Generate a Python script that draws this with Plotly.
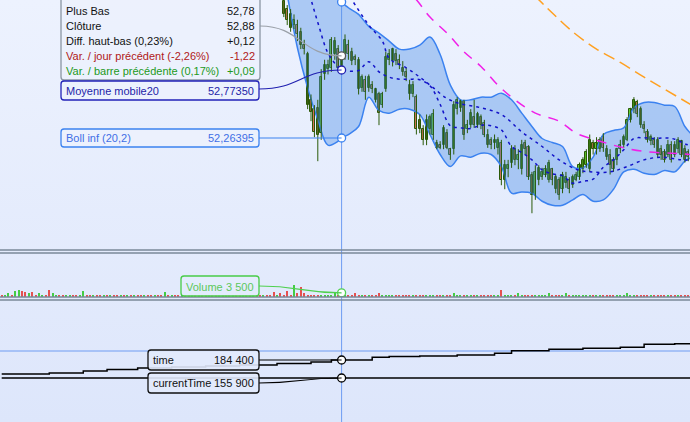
import base64
import plotly.graph_objects as go

# ---------------- DATA ----------------
first_idx = 83
opn = [53.29, 53.23, 53.19, 53.11, 53.11, 53.06, 52.96, 52.89, 52.55, 52.48,
       52.49, 52.30, 52.74, 52.78, 52.79, 52.89, 52.93, 52.80, 52.89, 52.96,
       52.91, 52.87, 52.85, 52.64, 52.70, 52.64, 52.66, 52.63, 52.59, 52.51,
       52.63, 52.85, 52.84, 52.89, 52.85, 52.79, 52.76, 52.66, 52.59, 52.57,
       52.40, 52.33, 52.25, 52.33, 52.29, 52.23, 52.21, 52.21, 52.30, 52.18,
       52.18, 52.48, 52.49, 52.54, 52.33, 52.36, 52.42, 52.36, 52.42, 52.38,
       52.29, 52.25, 52.23, 52.19, 52.23, 51.95, 52.03, 52.08, 52.18, 52.10,
       52.03, 52.23, 52.20, 51.99, 51.84, 51.95, 51.97, 51.99, 51.95, 52.03,
       51.97, 51.95, 51.88, 51.93, 51.95, 51.91, 51.95, 51.97, 52.03, 52.06,
       52.03, 52.23, 52.18, 52.18, 52.27, 52.18, 52.14, 52.10, 52.10, 52.18,
       52.21, 52.25, 52.40, 52.48, 52.53, 52.48, 52.36, 52.31, 52.24, 52.25,
       52.25, 52.18, 52.16, 52.14, 52.21, 52.21, 52.18, 52.24, 52.18, 52.16]
close = [53.19, 53.15, 53.09, 53.15, 53.04, 52.96, 52.93, 52.51, 52.46, 52.31,
         52.29, 52.72, 52.81, 52.81, 53.00, 52.99, 52.79, 52.88, 53.00, 52.89,
         52.84, 52.85, 52.63, 52.72, 52.61, 52.72, 52.63, 52.55, 52.45, 52.59,
         52.87, 52.89, 52.93, 52.84, 52.81, 52.76, 52.72, 52.59, 52.66, 52.33,
         52.33, 52.25, 52.40, 52.42, 52.44, 52.19, 52.19, 52.34, 52.19, 52.14,
         52.51, 52.55, 52.54, 52.29, 52.36, 52.45, 52.36, 52.44, 52.36, 52.29,
         52.21, 52.21, 52.25, 52.25, 51.95, 52.06, 52.06, 52.18, 52.10, 52.14,
         52.21, 52.18, 51.97, 51.84, 52.01, 52.04, 52.01, 52.03, 52.08, 51.95,
         51.88, 51.84, 51.99, 51.97, 51.88, 51.97, 51.99, 52.06, 52.10, 52.16,
         52.25, 52.18, 52.23, 52.25, 52.19, 52.12, 52.06, 52.03, 52.18, 52.21,
         52.27, 52.40, 52.48, 52.55, 52.44, 52.36, 52.33, 52.25, 52.27, 52.21,
         52.14, 52.14, 52.10, 52.21, 52.10, 52.14, 52.25, 52.14, 52.10, 52.12]
high = [53.32, 53.26, 53.23, 53.19, 53.15, 53.09, 53.00, 52.91, 52.59, 52.51,
        52.55, 52.78, 52.85, 52.85, 53.02, 53.02, 52.96, 52.90, 53.04, 53.00,
        52.94, 52.89, 52.87, 52.74, 52.73, 52.74, 52.69, 52.64, 52.61, 52.61,
        52.91, 52.93, 52.94, 52.93, 52.89, 52.84, 52.79, 52.70, 52.69, 52.59,
        52.44, 52.36, 52.44, 52.44, 52.48, 52.25, 52.24, 52.36, 52.33, 52.19,
        52.54, 52.57, 52.55, 52.55, 52.40, 52.48, 52.55, 52.46, 52.44, 52.40,
        52.33, 52.27, 52.29, 52.27, 52.25, 52.10, 52.10, 52.21, 52.21, 52.18,
        52.25, 52.25, 52.21, 52.01, 52.06, 52.06, 52.04, 52.06, 52.10, 52.04,
        51.99, 51.97, 52.01, 52.01, 51.97, 51.99, 52.01, 52.08, 52.12, 52.18,
        52.29, 52.25, 52.27, 52.27, 52.30, 52.21, 52.18, 52.12, 52.19, 52.25,
        52.29, 52.42, 52.49, 52.57, 52.55, 52.50, 52.39, 52.33, 52.29, 52.27,
        52.27, 52.21, 52.18, 52.25, 52.24, 52.24, 52.27, 52.25, 52.21, 52.18]
low = [53.17, 53.11, 53.06, 53.08, 52.99, 52.93, 52.89, 52.48, 52.39, 52.27,
       52.09, 52.25, 52.70, 52.74, 52.76, 52.85, 52.77, 52.78, 52.85, 52.85,
       52.81, 52.81, 52.59, 52.61, 52.55, 52.61, 52.60, 52.53, 52.36, 52.49,
       52.61, 52.81, 52.80, 52.81, 52.78, 52.73, 52.69, 52.55, 52.57, 52.29,
       52.30, 52.21, 52.21, 52.29, 52.25, 52.18, 52.18, 52.18, 52.18, 52.10,
       52.14, 52.44, 52.46, 52.25, 52.30, 52.34, 52.34, 52.34, 52.33, 52.27,
       52.19, 52.18, 52.18, 52.14, 51.91, 51.88, 51.97, 52.04, 52.06, 52.03,
       51.99, 52.14, 51.95, 51.70, 51.80, 51.91, 51.95, 51.97, 51.93, 51.91,
       51.85, 51.80, 51.85, 51.89, 51.85, 51.89, 51.94, 51.95, 52.00, 52.04,
       52.01, 52.14, 52.14, 52.16, 52.16, 52.10, 51.99, 52.01, 52.06, 52.15,
       52.19, 52.24, 52.38, 52.45, 52.42, 52.34, 52.30, 52.23, 52.21, 52.19,
       52.12, 52.10, 52.08, 52.12, 52.08, 52.12, 52.15, 52.12, 52.08, 52.09]

band_idx = [84, 87, 90, 93, 96, 99, 100, 102, 105, 108, 111, 114, 117, 120, 123, 126,
            129, 132, 135, 138, 141, 144, 147, 150, 153, 156, 159, 162, 165, 168, 171,
            174, 177, 180, 183, 186, 189, 192, 195, 198, 201, 203]
boll_sup = [54.43, 54.28, 54.13, 53.86, 53.59, 53.35, 53.283, 53.24, 53.19, 53.10, 53.05,
            52.99, 52.93, 52.93, 52.96, 53.02, 52.89, 52.66, 52.55, 52.55, 52.57, 52.57,
            52.60, 52.55, 52.45, 52.35, 52.26, 52.23, 52.20, 52.05, 52.04, 52.12, 52.29,
            52.32, 52.34, 52.49, 52.53, 52.53, 52.51, 52.50, 52.35, 52.29]
boll_inf = [53.34, 52.94, 52.64, 52.40, 52.21, 52.24, 52.26395, 52.29, 52.35, 52.57, 52.47,
            52.45, 52.48, 52.48, 52.44, 52.29, 52.14, 52.05, 52.13, 52.12, 52.15, 52.14,
            52.05, 51.85, 51.86, 51.85, 51.79, 51.76, 51.76, 51.80, 51.84, 51.79, 51.80,
            51.88, 52.01, 52.03, 52.00, 51.99, 52.02, 52.01, 52.09, 52.12]
mm20 = [53.885, 53.61, 53.385, 53.13, 52.90, 52.795, 52.7735, 52.765, 52.77, 52.835, 52.76,
        52.72, 52.705, 52.705, 52.70, 52.655, 52.515, 52.355, 52.34, 52.335, 52.36, 52.355,
        52.325, 52.20, 52.155, 52.10, 52.025, 51.995, 51.98, 51.925, 51.94, 51.955, 52.045,
        52.10, 52.175, 52.26, 52.265, 52.26, 52.265, 52.255, 52.22, 52.205]

mm50_idx = [98, 103, 108, 112, 114, 119, 123, 127, 131, 135, 141, 147, 153, 159, 164,
            169, 173, 179, 184, 189, 194, 200, 203]
mm50 = [53.50, 53.30, 53.11, 52.99, 52.86, 52.79, 52.72, 52.64, 52.56, 52.52, 52.49, 52.44,
        52.31, 52.20, 52.10, 52.03, 52.01, 52.01, 52.05, 52.10, 52.12, 52.10, 52.10]

mm100_idx = [118, 122, 126, 131, 136, 141, 146, 151, 157, 164, 169, 176, 183, 190, 197, 203]
mm100 = [53.40, 53.30, 53.17, 53.05, 52.91, 52.80, 52.66, 52.55, 52.45, 52.39, 52.30, 52.24,
         52.19, 52.16, 52.15, 52.14]

mm200_idx = [153, 158, 162, 168, 175, 182, 189, 195, 203]
mm200 = [53.42, 53.30, 53.20, 53.06, 52.93, 52.83, 52.72, 52.63, 52.51]

volume = [2000, 2000, 3000, 2000, 5000, 6000, 5000, 4000, 3000, 4000,
          2000, 3000, 2000, 2000, 6000, 3000, 2000, 1000, 2000, 1000,
          1000, 2000, 1000, 1000, 5000, 1000, 2000, 1000, 1000, 2000,
          1000, 2000, 1000, 1000, 2000, 1000, 1000, 1000, 2000, 1000,
          1000, 1000, 2000, 1000, 1000, 1000, 1000, 2000, 4000, 1000,
          1000, 2000, 1000, 1000, 1000, 1000, 1000, 2000, 1000, 1000,
          1000, 1000, 1000, 2000, 1000, 1000, 1000, 1000, 1000, 2000,
          1000, 1000, 2000, 1000, 1000, 1000, 1000, 1000, 2000, 1000,
          4000, 1000, 3000, 1000, 5000, 1000, 10000, 3000, 8000, 3000,
          1000, 2000, 1000, 1000, 2000, 1000, 1000, 1000, 3000, 1000,
          3500, 1000, 1000, 1000, 3000, 2000, 1000, 1000, 1000, 2000,
          1000, 3000, 1000, 1000, 1000, 1000, 1000, 1000, 1000, 1000,
          1000, 1000, 1000, 2000, 1000, 1000, 2000, 1000, 1000, 1000,
          2000, 1000, 1000, 3000, 2000, 2000, 1000, 1000, 1000, 1000,
          1000, 1000, 1000, 1000, 1000, 1000, 1000, 6000, 1000, 1000,
          1000, 2000, 3000, 2000, 1000, 1000, 1000, 1000, 1000, 1000,
          1000, 3000, 1000, 1000, 1000, 1000, 3000, 1000, 2000, 1000,
          1000, 1000, 1000, 2000, 1000, 1000, 1000, 1000, 1000, 1000,
          1000, 1000, 1000, 1000, 3000, 1000, 1000, 1000, 1000, 1000,
          1000, 1000, 1000, 1000, 1000, 1000, 1000, 1000, 1000, 1000,
          1000, 1000, 1000]
vol_dir_early = ("rggrggrrgr" "rggrrggrrg" "grrggrrgrr" "grgrrgrgrg" "rrgrrgrrgr"
                 "grrgrrgrgr" "rgrrgrrrgr" "rgrrgrrgrr" "rgr")

time_idx = [0, 14, 24, 31, 40, 50, 60, 70, 81, 91, 97, 109, 114, 123, 134, 145, 150,
            161, 171, 182, 189, 198, 203]
time_val = [162200, 163800, 167000, 169400, 171700, 173300, 174900, 176500, 178900,
            181200, 184400, 188700, 189800, 190700, 192300, 195000, 199100, 201300,
            202900, 204500, 209300, 210000, 210800]
current_idx = [0, 203]
current_val = [155900, 155900]

cursor_idx = 100
cur_close = 52.88
cur_mm20 = 52.77350
cur_boll_inf = 52.26395
cur_boll_sup = 53.283
cur_volume = 3500
cur_time = 184400
cur_current = 155900

# ---------------- LAYOUT HELPERS ----------------
W, H = 690, 422
X0, X1 = -0.5, 202.5
P_TOP, P_BOT, P_PX = 53.298, 51.432, 249
V_TOP_PX, V_BOT_PX, V_MAX = 254, 297, 36000
T_TOP_PX, T_TOP, T_BOT = 301, 277797, 86254

def xi(px):
    return X0 + px / W * (X1 - X0)

def yprice(py):
    return P_TOP - py / P_PX * (P_TOP - P_BOT)

def yvol(py):
    return (V_BOT_PX - py) / (V_BOT_PX - V_TOP_PX) * V_MAX

def ytime(py):
    return T_TOP - (py - T_TOP_PX) / (H - T_TOP_PX) * (T_TOP - T_BOT)

def fx(px):
    return px / W

def fy(py):
    return 1 - py / H

def rrect(x0, y0, x1, y1, r=3):
    X = lambda v: f"{fx(v):.5f}"
    Y = lambda v: f"{fy(v):.5f}"
    return (f"M {X(x0+r)},{Y(y0)} L {X(x1-r)},{Y(y0)} Q {X(x1)},{Y(y0)} {X(x1)},{Y(y0+r)} "
            f"L {X(x1)},{Y(y1-r)} Q {X(x1)},{Y(y1)} {X(x1-r)},{Y(y1)} "
            f"L {X(x0+r)},{Y(y1)} Q {X(x0)},{Y(y1)} {X(x0)},{Y(y1-r)} "
            f"L {X(x0)},{Y(y0+r)} Q {X(x0)},{Y(y0)} {X(x0+r)},{Y(y0)} Z")

FONT = "Liberation Sans"
BG = "#E6EDFC"
UP, DOWN, EDGE = "#62D030", "#E6735E", "#2A5A08"

# background gradient (light at top, slightly deeper blue at bottom)
svg = ("<svg xmlns='http://www.w3.org/2000/svg' width='690' height='422' preserveAspectRatio='none'>"
       "<defs><linearGradient id='g' x1='0' y1='0' x2='0' y2='1'>"
       "<stop offset='0' stop-color='#EDF2FE'/><stop offset='1' stop-color='#DDE6FB'/>"
       "</linearGradient></defs><rect width='690' height='422' fill='url(#g)'/></svg>")
bg_src = "data:image/svg+xml;base64," + base64.b64encode(svg.encode()).decode()

fig = go.Figure()

# Bollinger band
fig.add_trace(go.Scatter(x=band_idx, y=boll_inf, mode="lines", line=dict(color="#3B82F0", width=1.5, shape="spline"),
                         xaxis="x", yaxis="y", hoverinfo="skip"))
fig.add_trace(go.Scatter(x=band_idx, y=boll_sup, mode="lines", fill="tonexty", fillcolor="rgba(80,145,230,0.42)",
                         line=dict(color="#3B82F0", width=1.5, shape="spline"), xaxis="x", yaxis="y", hoverinfo="skip"))

# Candles: wicks then bodies
cidx = list(range(first_idx, first_idx + len(close)))
wx, wy = [], []
for i, h, l in zip(cidx, high, low):
    wx += [i, i, None]
    wy += [h, l, None]
fig.add_trace(go.Scatter(x=wx, y=wy, mode="lines", line=dict(color=EDGE, width=1), xaxis="x", yaxis="y",
                         hoverinfo="skip"))
body_base = [min(o, c) for o, c in zip(opn, close)]
body_len = [max(abs(c - o), 0.004) for o, c in zip(opn, close)]
body_col = [UP if c >= o else DOWN for o, c in zip(opn, close)]
fig.add_trace(go.Bar(x=cidx, y=body_len, base=body_base, width=0.62,
                     marker=dict(color=body_col, line=dict(color=EDGE, width=1)),
                     xaxis="x", yaxis="y", hoverinfo="skip"))

# Moving averages
fig.add_trace(go.Scatter(x=band_idx, y=mm20, mode="lines", line=dict(color="#1212C8", width=1.5, dash="3px,4px", shape="spline"),
                         xaxis="x", yaxis="y", hoverinfo="skip"))
fig.add_trace(go.Scatter(x=mm50_idx, y=mm50, mode="lines", line=dict(color="#1212C8", width=1.5, dash="3px,4px", shape="spline"),
                         xaxis="x", yaxis="y", hoverinfo="skip"))
fig.add_trace(go.Scatter(x=mm100_idx, y=mm100, mode="lines", line=dict(color="#F020E8", width=1.5, dash="10px,8px", shape="spline"),
                         xaxis="x", yaxis="y", hoverinfo="skip"))
fig.add_trace(go.Scatter(x=mm200_idx, y=mm200, mode="lines", line=dict(color="#FFA020", width=1.5, dash="12px,6px", shape="spline"),
                         xaxis="x", yaxis="y", hoverinfo="skip"))

# Volume
vol_colors = []
for i in range(len(volume)):
    if i < first_idx:
        up = vol_dir_early[i] == "g"
    else:
        k = i - first_idx
        up = close[k] >= opn[k]
    vol_colors.append("#44CC44" if up else "#E65050")
fig.add_trace(go.Bar(x=list(range(len(volume))), y=volume, marker=dict(color=vol_colors, line=dict(width=0)),
                     width=0.35, xaxis="x", yaxis="y2", hoverinfo="skip"))

# Time panel
fig.add_trace(go.Scatter(x=time_idx, y=time_val, mode="lines", line=dict(color="black", width=1.5, shape="hv"),
                         xaxis="x", yaxis="y3", hoverinfo="skip"))
fig.add_trace(go.Scatter(x=current_idx, y=current_val, mode="lines", line=dict(color="black", width=1.5),
                         xaxis="x", yaxis="y3", hoverinfo="skip"))

shapes = []
# crosshair
shapes.append(dict(type="line", xref="x", yref="paper", x0=cursor_idx, x1=cursor_idx, y0=0, y1=1,
                   line=dict(color="#6E9CF2", width=1), layer="below"))
shapes.append(dict(type="line", xref="paper", yref="paper", x0=0, x1=1, y0=fy(351), y1=fy(351),
                   line=dict(color="#6E9CF2", width=1), layer="below"))
# panel separators
for yy in (250, 253, 297, 300):
    shapes.append(dict(type="line", xref="paper", yref="paper", x0=0, x1=1, y0=fy(yy), y1=fy(yy),
                       line=dict(color="#7A8898", width=1.5)))

# connectors
def curve(x0p, y0v, x1v, y1v, yref, ymid0, ymid1, color, width=1.2):
    a = xi(x0p)
    b = x1v
    return dict(type="path", xref="x", yref=yref,
                path=f"M {a},{y0v} C {a + (b - a) * 0.5},{ymid0} {a + (b - a) * 0.5},{ymid1} {b},{y1v}",
                line=dict(color=color, width=width), layer="above")

shapes.append(curve(260, yprice(26), cursor_idx, cur_close, "y", yprice(26), cur_close, "#9AA0A8"))
shapes.append(curve(259, yprice(89), cursor_idx, cur_mm20, "y", yprice(89), cur_mm20, "#2020B0"))
shapes.append(dict(type="line", xref="x", yref="y", x0=xi(259), x1=cursor_idx, y0=cur_boll_inf, y1=cur_boll_inf,
                   line=dict(color="#3B82F0", width=1.2)))
shapes.append(curve(259, yvol(286), cursor_idx, cur_volume, "y2", yvol(286), cur_volume, "#50D050"))
shapes.append(dict(type="line", xref="x", yref="y3", x0=xi(259), x1=cursor_idx, y0=cur_time, y1=cur_time,
                   line=dict(color="black", width=1.2)))
shapes.append(curve(259, ytime(383), cursor_idx, cur_current, "y3", ytime(383), cur_current, "black"))

# label boxes
boxes = [
    (61, -6, 260, 80, "#8A96A4", "rgba(236,241,253,0.85)"),
    (61, 81, 259, 100, "#2222B8", "rgba(236,241,253,0.9)"),
    (61, 129, 259, 147, "#3B82F0", "rgba(236,241,253,0.9)"),
    (181, 276, 259, 296, "#48CC48", "rgba(228,236,252,0.8)"),
    (148, 350, 259, 370, "#101010", "rgba(226,234,252,0.9)"),
    (148, 373, 259, 393, "#101010", "rgba(226,234,252,0.9)"),
]
for x0, y0, x1, y1, lc, fc in boxes:
    shapes.append(dict(type="path", xref="paper", yref="paper", path=rrect(x0, y0, x1, y1),
                       line=dict(color=lc, width=1.3), fillcolor=fc, layer="above"))

# markers at cursor
def mk(y, yaxis, color):
    fig.add_trace(go.Scatter(x=[cursor_idx], y=[y], mode="markers", xaxis="x", yaxis=yaxis, hoverinfo="skip",
                             marker=dict(size=8, color="white", line=dict(color=color, width=1.3))))

mk(cur_boll_sup, "y", "#3B82F0")
mk(cur_close, "y", "#555555")
mk(cur_mm20, "y", "#2020B0")
mk(cur_boll_inf, "y", "#3B82F0")
mk(cur_volume, "y2", "#50D050")
mk(cur_time, "y3", "black")
mk(cur_current, "y3", "black")

# texts
ann = []
def txt(x, y, s, color, anchor="left", size=11):
    ann.append(dict(xref="paper", yref="paper", x=fx(x), y=fy(y), text=s, showarrow=False,
                    xanchor=anchor, yanchor="middle", font=dict(family=FONT, size=size, color=color)))

rows = [("Plus Bas", "52,78", "#111111"),
        ("Clôture", "52,88", "#111111"),
        ("Diff. haut-bas (0,23%)", "+0,12", "#111111"),
        ("Var. / jour précédent (-2,26%)", "-1,22", "#B01818"),
        ("Var. / barre précédente (0,17%)", "+0,09", "#229922")]
for k, (lab, val, col) in enumerate(rows):
    txt(64, 11 + 15 * k, lab, col)
    txt(257, 11 + 15 * k, val, col, "right")
txt(64, 90.5, "Moyenne mobile20", "#2424A8")
txt(256, 90.5, "52,77350", "#2424A8", "right")
txt(64, 138, "Boll inf (20,2)", "#3F6FE6")
txt(256, 138, "52,26395", "#3F6FE6", "right")
txt(184, 286.5, "Volume", "#5CC85C")
txt(256, 286.5, "3 500", "#5CC85C", "right")
txt(151, 360, "time", "#111111")
txt(256, 360, "184 400", "#111111", "right")
txt(151, 383, "currentTime", "#111111")
txt(256, 383, "155 900", "#111111", "right")

fig.update_layout(
    width=W, height=H, margin=dict(l=0, r=0, t=0, b=0),
    paper_bgcolor=BG, plot_bgcolor="rgba(0,0,0,0)", showlegend=False, hovermode=False,
    xaxis=dict(range=[X0, X1], visible=False, fixedrange=True),
    yaxis=dict(domain=[fy(P_PX), 1], range=[P_BOT, P_TOP], visible=False, anchor="x"),
    yaxis2=dict(domain=[fy(V_BOT_PX), fy(V_TOP_PX)], range=[0, V_MAX], visible=False, anchor="x"),
    yaxis3=dict(domain=[0, fy(T_TOP_PX)], range=[T_BOT, T_TOP], visible=False, anchor="x"),
    images=[dict(source=bg_src, xref="paper", yref="paper", x=0, y=1, sizex=1, sizey=1,
                 sizing="stretch", xanchor="left", yanchor="top", layer="below")],
    shapes=shapes, annotations=ann, bargap=0, barmode="overlay",
)

fig.write_html("out.html", config={"displayModeBar": False},
               post_script="document.body.style.margin='0';document.body.style.padding='0';document.body.style.overflow='hidden';")
